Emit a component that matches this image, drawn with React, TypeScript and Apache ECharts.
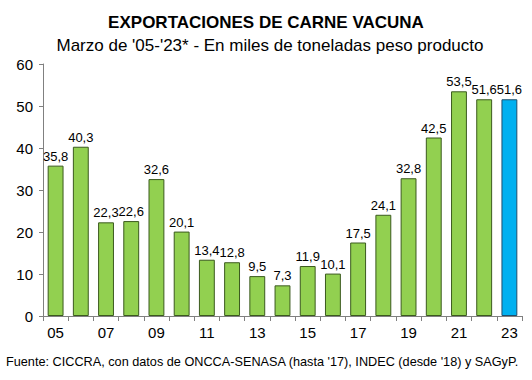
import React, { useEffect, useRef } from "react";
import * as echarts from "echarts";

const categories = ["05","06","07","08","09","10","11","12","13","14","15","16","17","18","19","20","21","22","23"];
const values = [35.8, 40.3, 22.3, 22.6, 32.6, 20.1, 13.4, 12.8, 9.5, 7.3, 11.9, 10.1, 17.5, 24.1, 32.8, 42.5, 53.5, 51.6, 51.6];
const yTicks = [0, 10, 20, 30, 40, 50, 60];

export default function App() {
  const ref = useRef<HTMLDivElement>(null);
  useEffect(() => {
    if (!ref.current) return;
    const chart = echarts.init(ref.current, null, { renderer: "svg" });
    const font = "Arial, 'Liberation Sans', sans-serif";
    chart.setOption({
      animation: false,
      backgroundColor: "#ffffff",
      textStyle: { fontFamily: font },
      title: [
        {
          text: "EXPORTACIONES DE CARNE VACUNA",
          left: 261,
          textAlign: "center",
          top: 9,
          textStyle: { fontSize: 17, fontWeight: "bold", color: "#000", fontFamily: font },
        },
        {
          text: "Marzo de '05-'23* - En miles de toneladas peso producto",
          left: 265,
          textAlign: "center",
          top: 32,
          textStyle: { fontSize: 17, fontWeight: "normal", color: "#000", fontFamily: font },
        },
        {
          text: "Fuente: CICCRA, con datos de ONCCA-SENASA (hasta '17), INDEC (desde '18) y SAGyP.",
          left: 1,
          top: 350,
          textStyle: { fontSize: 12.7, fontWeight: "normal", color: "#000", fontFamily: font },
        },
      ],
      grid: { left: 43, right: 10, top: 64, bottom: 64, containLabel: false },
      xAxis: {
        type: "category",
        data: categories,
        boundaryGap: true,
        axisLine: { lineStyle: { color: "#808080", width: 1 } },
        axisTick: { show: true, alignWithLabel: false, interval: 0, length: 5, inside: false, lineStyle: { color: "#808080" } },
        axisLabel: { interval: 1, color: "#000", fontSize: 15, margin: 9, fontFamily: font },
      },
      yAxis: {
        type: "value",
        min: 0,
        max: 60,
        interval: 10,
        splitLine: { show: false },
        axisLine: { show: true, lineStyle: { color: "#808080", width: 1 } },
        axisTick: { show: true, length: 4, lineStyle: { color: "#808080" } },
        axisLabel: {
          color: "#000",
          fontSize: 15,
          margin: 10,
          fontFamily: font,
          formatter: (v: number) => (yTicks.includes(v) ? String(v) : ""),
        },
      },
      series: [
        {
          type: "bar",
          barWidth: "63%",
          data: values.map((v, i) => ({
            value: v,
            itemStyle: {
              color: i === values.length - 1 ? "#00B0F0" : "#92D050",
              borderColor: i === values.length - 1 ? "#1f4e6e" : "#3b5a1e",
              borderWidth: 1,
            },
          })),
          label: {
            show: true,
            position: "top",
            distance: 3,
            color: "#000",
            fontSize: 13,
            fontFamily: font,
            formatter: (p: any) => String(p.value).replace(".", ","),
          },
        },
      ],
    });
    return () => chart.dispose();
  }, []);
  return <div ref={ref} style={{ width: 532, height: 380, position: "absolute", left: 0, top: 0 }} />;
}
